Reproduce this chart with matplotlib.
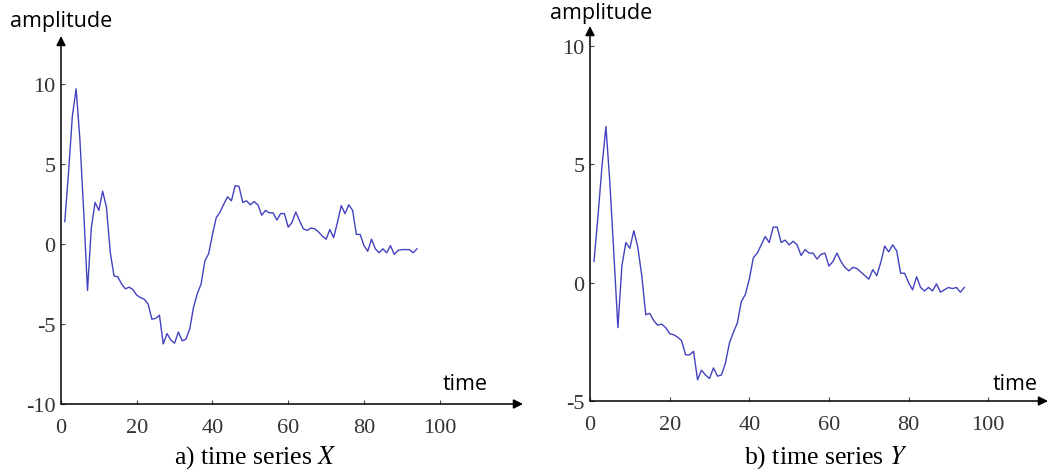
import matplotlib
matplotlib.use("Agg")
import matplotlib.pyplot as plt

# time index and amplitudes
t = list(range(1, 95))

series_x = [1.4, 4.5, 8.0, 9.7, 6.5, 2.0, -2.9, 1.0, 2.6, 2.1,
            3.3, 2.3, -0.5, -2.0, -2.05, -2.5, -2.8, -2.7, -2.85, -3.2,
            -3.35, -3.45, -3.75, -4.7, -4.65, -4.45, -6.25, -5.6, -6.0, -6.2,
            -5.5, -6.05, -5.95, -5.3, -3.95, -3.1, -2.5, -1.05, -0.6, 0.6,
            1.65, 2.0, 2.5, 2.95, 2.7, 3.65, 3.6, 2.6, 2.7, 2.45,
            2.65, 2.45, 1.8, 2.1, 1.95, 1.95, 1.5, 1.9, 1.9, 1.05,
            1.35, 2.0, 1.45, 0.95, 0.85, 1.0, 0.95, 0.75, 0.5, 0.3,
            0.9, 0.4, 1.35, 2.4, 1.9, 2.45, 2.1, 0.6, 0.6, -0.1,
            -0.45, 0.3, -0.3, -0.55, -0.3, -0.55, -0.1, -0.65, -0.4, -0.35,
            -0.35, -0.35, -0.55, -0.3]

series_y = [0.9, 2.8, 4.9, 6.6, 4.2, 1.2, -1.9, 0.7, 1.7, 1.45,
            2.2, 1.5, 0.3, -1.35, -1.3, -1.6, -1.8, -1.75, -1.9, -2.15,
            -2.2, -2.3, -2.45, -3.05, -3.05, -2.9, -4.1, -3.7, -3.9, -4.05,
            -3.6, -3.95, -3.9, -3.4, -2.55, -2.1, -1.7, -0.8, -0.5, 0.15,
            1.05, 1.25, 1.6, 1.95, 1.7, 2.35, 2.35, 1.7, 1.8, 1.6,
            1.75, 1.6, 1.15, 1.4, 1.25, 1.25, 1.0, 1.2, 1.25, 0.7,
            0.9, 1.25, 0.9, 0.65, 0.5, 0.65, 0.6, 0.45, 0.3, 0.15,
            0.55, 0.3, 0.85, 1.55, 1.3, 1.6, 1.35, 0.4, 0.4, 0.0,
            -0.3, 0.25, -0.2, -0.35, -0.2, -0.35, -0.05, -0.4, -0.3, -0.2,
            -0.25, -0.2, -0.4, -0.2]

x_ticks = [0, 20, 40, 60, 80, 100]
y_ticks_x = [-10, -5, 0, 5, 10]
y_ticks_y = [-5, 0, 5, 10]
captions = ["a) time series $X$", "b) time series $Y$"]

plt.rcParams["mathtext.fontset"] = "stix"
plt.rcParams["axes.unicode_minus"] = False
W, H = 1049, 477
LINE = "#4242c0"
AXC = "#444444"

fig = plt.figure(figsize=(W / 100, H / 100), dpi=100)


def panel(rect_px, data, xlim, ylim, yticks, caption, cap_x, amp_xy, time_xy):
    l, b, w, h = rect_px
    ax = fig.add_axes([l / W, b / H, w / W, h / H])
    ax.plot(t, data, color=LINE, lw=1.0)
    ax.set_xlim(*xlim)
    ax.set_ylim(*ylim)
    for s in ["top", "right", "left", "bottom"]:
        ax.spines[s].set_visible(False)
    ax.annotate("", xy=(1, 0), xytext=(0, 0), xycoords="axes fraction",
                arrowprops=dict(arrowstyle="-|>", color="black", lw=1.1,
                                mutation_scale=14, shrinkA=0, shrinkB=0))
    ax.annotate("", xy=(0, 1), xytext=(0, 0), xycoords="axes fraction",
                arrowprops=dict(arrowstyle="-|>", color="black", lw=1.1,
                                mutation_scale=14, shrinkA=0, shrinkB=0))
    ax.set_xticks(x_ticks)
    ax.set_yticks(yticks)
    ax.tick_params(direction="in", length=3, width=0.8, color=AXC,
                   labelcolor="#333333", labelsize=16)
    ax.tick_params(axis="x", pad=10)
    ax.tick_params(axis="y", pad=4)
    for lab in ax.get_xticklabels() + ax.get_yticklabels():
        lab.set_fontfamily("Liberation Serif")
    fig.text(cap_x / W, 1 - 458 / H, caption, ha="center", va="center",
             fontsize=18.5, family="Liberation Serif")
    fig.text(amp_xy[0] / W, 1 - amp_xy[1] / H, "amplitude", ha="left",
             va="center", fontsize=15.5, family="Open Sans")
    fig.text(time_xy[0] / W, 1 - time_xy[1] / H, "time", ha="center",
             va="center", fontsize=15.5, family="Open Sans")
    return ax


panel((61, H - 405, 462, 368), series_x, (0, 122), (-10, 13.0), y_ticks_x,
      captions[0], 255, (10, 22), (465, 385))
panel((590, H - 402, 458, 375), series_y, (0, 115), (-5, 10.85), y_ticks_y,
      captions[1], 826, (550, 13), (1015, 385))

fig.savefig("out.png", dpi=100)
